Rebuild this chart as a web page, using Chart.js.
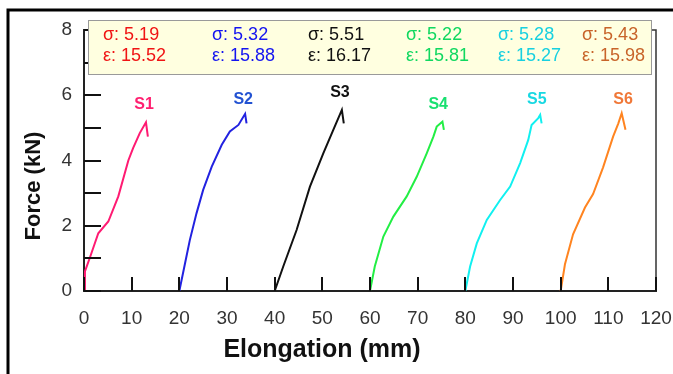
<!DOCTYPE html>
<html>
<head>
<meta charset="utf-8">
<script src="https://cdn.jsdelivr.net/npm/chart.js@4/dist/chart.umd.min.js"></script>
<style>
    html, body { margin: 0; padding: 0; background: #fff; }
    #wrap { width: 673px; height: 374px; position: relative; }
</style>
</head>
<body>
<div id="wrap"><canvas id="chart"></canvas></div>
<script>
    // Force (kN) vs elongation (mm), each sample shifted 20 mm along x
    const samples = ['S1', 'S2', 'S3', 'S4', 'S5', 'S6'];

    const s1X = [0, 0.2, 1.3, 3.0, 5.1, 7.2, 9.3, 10.3, 11.7, 13.0, 13.4];
    const s1Y = [0, 0.6, 1.05, 1.77, 2.13, 2.9, 4.0, 4.38, 4.84, 5.17, 4.73];
    const s2X = [20, 21.2, 22.2, 23.6, 25.0, 26.8, 28.9, 30.6, 32.4, 33.8, 34.1];
    const s2Y = [0, 0.85, 1.56, 2.38, 3.1, 3.81, 4.48, 4.89, 5.09, 5.43, 5.14];
    const s3X = [40, 41.8, 44.6, 47.4, 50.2, 52.3, 54.1, 54.5];
    const s3Y = [0, 0.75, 1.87, 3.2, 4.22, 4.94, 5.55, 5.14];
    const s4X = [60, 61.0, 62.8, 64.9, 67.7, 69.8, 71.9, 73.3, 74.0, 75.2, 75.5];
    const s4Y = [0, 0.75, 1.67, 2.28, 2.9, 3.5, 4.22, 4.73, 5.04, 5.19, 4.94];
    const s5X = [80, 81.0, 82.4, 84.5, 87.3, 89.4, 91.5, 93.2, 93.9, 95.3, 95.7, 96.0];
    const s5Y = [0, 0.75, 1.46, 2.18, 2.79, 3.2, 3.92, 4.63, 5.09, 5.3, 5.4, 5.14];
    const s6X = [100, 100.9, 102.6, 105.1, 106.8, 108.9, 111.0, 112.1, 112.8, 113.6];
    const s6Y = [0, 0.82, 1.74, 2.56, 2.97, 3.79, 4.73, 5.14, 5.45, 4.94];

    // where the S labels sit, in data units
    const labelX = [12.6, 33.4, 53.7, 74.3, 95.0, 113.1];
    const labelY = [5.7, 5.86, 6.07, 5.7, 5.86, 5.86];

    // strength and strain shown in the box
    const sigma = ['5.19', '5.32', '5.51', '5.22', '5.28', '5.43'];
    const epsilon = ['15.52', '15.88', '16.17', '15.81', '15.27', '15.98'];

    const xTicks = [0, 10, 20, 30, 40, 50, 60, 70, 80, 90, 100, 110, 120];
    const yTicks = [0, 1, 2, 3, 4, 5, 6, 7, 8];

    const lineColors = ['#ff1a72', '#2222e0', '#111111', '#22ee44', '#11f0f0', '#ff8420'];
    const labelColors = ['#ff2070', '#2252d2', '#111111', '#18e070', '#18d8e2', '#f07838'];
    const boxColors = ['#f01414', '#1414f0', '#111111', '#10d860', '#18d0e0', '#c8642a'];

    const xs = [s1X, s2X, s3X, s4X, s5X, s6X];
    const ys = [s1Y, s2Y, s3Y, s4Y, s5Y, s6Y];

    const datasets = samples.map((name, i) => ({
        label: name,
        data: xs[i].map((x, k) => ({ x: x, y: ys[i][k] })),
        borderColor: lineColors[i],
        borderWidth: 2,
        pointRadius: 0,
        tension: 0,
        fill: false
    }));

    const decorations = {
        id: 'decorations',
        afterDraw(chart) {
            const ctx = chart.ctx;
            const xs_ = chart.scales.x;
            const ys_ = chart.scales.y;
            const a = chart.chartArea;

            ctx.save();

            // top and right frame
            ctx.strokeStyle = '#333';
            ctx.lineWidth = 1.5;
            ctx.beginPath();
            ctx.moveTo(a.left, a.top);
            ctx.lineTo(a.right, a.top);
            ctx.lineTo(a.right, a.bottom);
            ctx.stroke();

            // inward ticks
            ctx.strokeStyle = '#111';
            ctx.lineWidth = 2;
            xTicks.forEach(v => {
                const px = Math.round(xs_.getPixelForValue(v));
                ctx.beginPath();
                ctx.moveTo(px, a.bottom);
                ctx.lineTo(px, a.bottom - 14);
                ctx.stroke();
            });
            yTicks.forEach(v => {
                const py = Math.round(ys_.getPixelForValue(v));
                ctx.beginPath();
                ctx.moveTo(a.left, py);
                ctx.lineTo(a.left + 17, py);
                ctx.stroke();
            });

            // sample labels
            ctx.font = 'bold 16px "Liberation Sans", Arial, sans-serif';
            ctx.textAlign = 'center';
            ctx.textBaseline = 'middle';
            samples.forEach((name, i) => {
                ctx.fillStyle = labelColors[i];
                ctx.fillText(name, xs_.getPixelForValue(labelX[i]), ys_.getPixelForValue(labelY[i]));
            });

            // value box
            ctx.fillStyle = '#ffffe0';
            ctx.fillRect(88, 20, 563, 54);
            ctx.strokeStyle = '#9a9a9a';
            ctx.lineWidth = 1;
            ctx.strokeRect(88.5, 20.5, 563, 54);

            const cols = [103, 212, 308, 406, 498, 582];
            ctx.font = '18px "Liberation Sans", Arial, sans-serif';
            ctx.textAlign = 'left';
            samples.forEach((name, i) => {
                ctx.fillStyle = boxColors[i];
                ctx.fillText('σ: ' + sigma[i], cols[i], 35);
                ctx.fillText('ε: ' + epsilon[i], cols[i], 56);
            });

            // axis titles
            ctx.fillStyle = '#111';
            ctx.font = 'bold 25px "Liberation Sans", Arial, sans-serif';
            ctx.textAlign = 'center';
            ctx.fillText('Elongation (mm)', 322, 350);
            ctx.save();
            ctx.translate(34, 186);
            ctx.rotate(-Math.PI / 2);
            ctx.font = 'bold 22px "Liberation Sans", Arial, sans-serif';
            ctx.fillText('Force (kN)', 0, 0);
            ctx.restore();

            // outer picture border
            ctx.strokeStyle = '#000';
            ctx.lineWidth = 3;
            ctx.beginPath();
            ctx.moveTo(8, 374);
            ctx.lineTo(8, 10);
            ctx.lineTo(673, 10);
            ctx.stroke();

            ctx.restore();
        }
    };

    new Chart(document.getElementById('chart'), {
        type: 'line',
        data: { datasets: datasets },
        options: {
            responsive: true,
            maintainAspectRatio: false,
            animation: false,
            layout: { padding: { top: 30, right: 0, left: 0, bottom: 0 } },
            plugins: {
                legend: { display: false },
                tooltip: { enabled: false }
            },
            scales: {
                x: {
                    type: 'linear',
                    min: 0,
                    max: 120,
                    afterFit: s => {
                        s.height = 83;
                        s.paddingLeft = 0;
                        s.paddingRight = 17;
                    },
                    afterBuildTicks: s => { s.ticks = xTicks.map(v => ({ value: v })); },
                    ticks: {
                        color: '#333',
                        font: { family: '"Liberation Sans", Arial, sans-serif', size: 19 },
                        padding: 16,
                        maxRotation: 0,
                        autoSkip: false
                    },
                    grid: { display: false, drawTicks: false },
                    border: { display: true, color: '#222', width: 2 }
                },
                y: {
                    min: 0,
                    max: 8,
                    afterFit: s => { s.width = 84; },
                    afterBuildTicks: s => { s.ticks = yTicks.map(v => ({ value: v })); },
                    ticks: {
                        color: '#333',
                        font: { family: '"Liberation Sans", Arial, sans-serif', size: 19 },
                        padding: 12,
                        autoSkip: false,
                        callback: v => (v % 2 === 0 ? v : '')
                    },
                    grid: { display: false, drawTicks: false },
                    border: { display: true, color: '#222', width: 2 }
                }
            }
        },
        plugins: [decorations]
    });
</script>
</body>
</html>
